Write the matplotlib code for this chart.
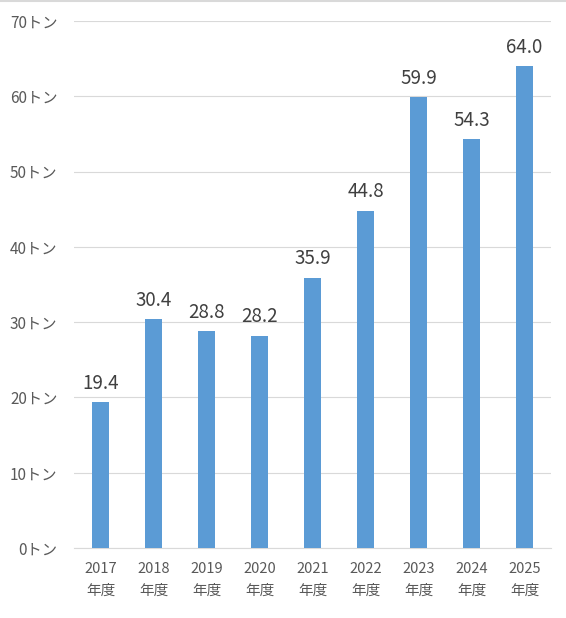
import matplotlib
matplotlib.use("Agg")
import matplotlib.pyplot as plt
from matplotlib.lines import Line2D

plt.rcParams['font.family'] = ['Noto Sans CJK JP', 'DejaVu Sans']

# data
years = ["2017", "2018", "2019", "2020", "2021", "2022", "2023", "2024", "2025"]
values = [19.4, 30.4, 28.8, 28.2, 35.9, 44.8, 59.9, 54.3, 64.0]
yticks = [0, 10, 20, 30, 40, 50, 60, 70]

bar_color = "#5B9BD5"
grid_color = "#D9D9D9"
text_color = "#595959"

fig = plt.figure(figsize=(5.66, 6.18), dpi=100)
ax = fig.add_axes([74/566, 1 - 548/618, 477/566, 527/618])

x = list(range(len(years)))
ax.bar(x, values, width=0.32, color=bar_color, zorder=3)

for xi, v in zip(x, values):
    ax.annotate(f"{v:.1f}", (xi, v), xytext=(0, 6), textcoords="offset points",
                ha="center", va="bottom", fontsize=13.5, color="#404040")

ax.set_xlim(-0.5, len(years) - 0.5)
ax.set_ylim(0, 70)
ax.set_yticks(yticks)
ax.set_yticklabels([f"{t}トン" for t in yticks], fontsize=11, color=text_color)
ax.set_xticks(x)
ax.set_xticklabels([f"{y}\n年度" for y in years], fontsize=10.5, color=text_color,
                   linespacing=1.7)
ax.tick_params(axis="both", length=0)
ax.tick_params(axis="y", pad=12)
ax.tick_params(axis="x", pad=10)

ax.grid(axis="y", color=grid_color, linewidth=0.8, zorder=0)
for s in ["top", "right", "left"]:
    ax.spines[s].set_visible(False)
ax.spines["bottom"].set_color(grid_color)
ax.spines["bottom"].set_linewidth(0.8)

# chart area top border
fig.add_artist(Line2D([0, 1], [0.999, 0.999], color=grid_color, linewidth=1.5,
                      transform=fig.transFigure))

fig.savefig("out.png", dpi=100)
